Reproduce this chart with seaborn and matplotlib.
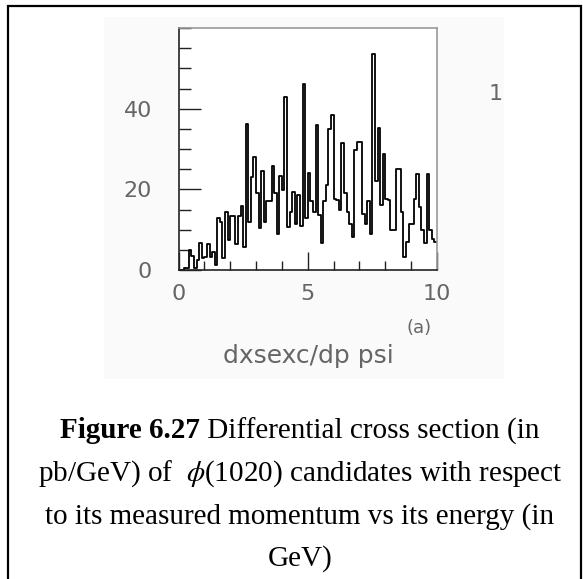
import numpy as np
import pandas as pd
import matplotlib
matplotlib.use("Agg")
import matplotlib.pyplot as plt
from matplotlib.patches import Rectangle
from matplotlib.ticker import MultipleLocator
import seaborn as sns

# Histogram of dxsexc/dp for psi, 100 bins of width 0.1 on [0, 10]
bin_width = 0.1
bin_range = (0.0, 10.0)
bin_contents = [
    0, 0, 0.4, 0.4, 5, 3.5, 0.6, 2.5, 6.6, 3,
    3.3, 6.4, 3.3, 4.5, 1.2, 12.8, 12, 3, 14.4, 7.4,
    13.4, 13.4, 6.5, 13.4, 15.8, 5.8, 36.3, 12, 23, 28,
    19, 10.3, 24.5, 12, 17, 17, 25.9, 19, 9, 23.3,
    19.8, 43, 10.7, 14.4, 19.4, 11.5, 18.6, 11, 46, 13,
    24, 17, 14.4, 36, 13.6, 6.8, 17, 21, 35, 38.4,
    17.7, 17.3, 15, 31.4, 19, 14.4, 11.5, 8.3, 29.7, 31.8,
    31.8, 14, 11.5, 17, 9, 53.6, 22, 35.2, 16, 28.8,
    17.7, 17.3, 9.9, 9.9, 25, 25, 14.4, 3.3, 7, 11.5,
    11.5, 17.7, 23.8, 15.7, 9.9, 6.6, 23.8, 9.9, 7.8, 7,
]
y_ticks = [0, 20, 40]
x_ticks = [0, 5, 10]

caption_bold = "Figure 6.27"
caption_line1 = " Differential cross section (in"
caption_lines = [
    r"pb/GeV) of  $\phi$(1020) candidates with respect",
    "to its measured momentum vs its energy (in",
    "GeV)",
]

bin_centers = bin_range[0] + bin_width * (np.arange(len(bin_contents)) + 0.5)
df = pd.DataFrame({"p": bin_centers, "w": bin_contents})

sns.set_style("white")
plt.rcParams["font.family"] = ["DejaVu Sans"]
plt.rcParams["mathtext.fontset"] = "stix"

W, H = 583, 579
fig = plt.figure(figsize=(W / 100, H / 100), dpi=100)

# faint panel behind the histogram pad
fig.patches.append(Rectangle((104 / W, 1 - 379 / H), 400 / W, 362 / H,
                             transform=fig.transFigure, facecolor="#fafafa",
                             edgecolor="none", zorder=-2))
# page frame
fig.patches.append(Rectangle((8 / W, -0.05), 573 / W, 1.05 - 5.5 / H,
                             transform=fig.transFigure, facecolor="none",
                             edgecolor="black", linewidth=1.6, zorder=5))

ax = fig.add_axes([178.5 / W, 1 - 270 / H, (437 - 178.5) / W, (270 - 28) / H])
ax.set_facecolor("white")

sns.histplot(data=df, x="p", weights="w", binwidth=bin_width,
             binrange=bin_range, element="step", fill=False,
             color="black", linewidth=1.3, ax=ax)

ax.set_xlim(0, 10)
ax.set_ylim(0, 60)
ax.set_xlabel("")
ax.set_ylabel("")
ax.set_xticks(x_ticks)
ax.set_yticks(y_ticks)
ax.xaxis.set_minor_locator(MultipleLocator(1))
ax.yaxis.set_minor_locator(MultipleLocator(5))
ax.tick_params(which="both", bottom=True, left=True, top=False, right=False)
ax.tick_params(axis="x", which="major", direction="in", length=13, width=1.0,
               color="#222222", labelsize=16, labelcolor="#666666", pad=10)
ax.tick_params(axis="x", which="minor", direction="in", length=6.7, width=1.0,
               color="#222222")
ax.tick_params(axis="y", which="major", direction="in", length=15.5, width=1.0,
               color="#222222", labelsize=16, labelcolor="#666666", pad=19)
ax.tick_params(axis="y", which="minor", direction="in", length=8.4, width=1.0,
               color="#222222")
for side in ["left", "bottom"]:
    ax.spines[side].set_color("#222222")
    ax.spines[side].set_linewidth(1.2)
for side in ["top", "right"]:
    ax.spines[side].set_color("#999999")
    ax.spines[side].set_linewidth(1.2)
    ax.spines[side].set_visible(True)

# pad annotations
fig.text(496 / W, 1 - 94 / H, "1", ha="center", va="center",
         fontsize=16, color="#666666")
fig.text(419 / W, 1 - 328 / H, "(a)", ha="center", va="center",
         fontsize=13, color="#666666")
fig.text(308 / W, 1 - 356 / H, "dxsexc/dp psi", ha="center", va="center",
         fontsize=18, color="#666666")

# caption in a serif face; the first line mixes bold and regular runs
serif = ["Liberation Serif", "DejaVu Serif"]
cap_size = 21
fig.canvas.draw()
renderer = fig.canvas.get_renderer()
t_bold = fig.text(0, 0, caption_bold, fontsize=cap_size, family=serif,
                  fontweight="bold", color="black")
t_reg = fig.text(0, 0, caption_line1, fontsize=cap_size, family=serif,
                 color="black")
wb = t_bold.get_window_extent(renderer).width
wr = t_reg.get_window_extent(renderer).width
cx = 300.0
x0 = cx - (wb + wr) / 2
y1 = 1 - 431 / H
t_bold.set_position((x0 / W, y1))
t_bold.set_va("center")
t_reg.set_position(((x0 + wb) / W, y1))
t_reg.set_va("center")

for line, ypx in zip(caption_lines, [474, 517, 559]):
    fig.text(cx / W, 1 - ypx / H, line, ha="center", va="center",
             fontsize=cap_size, family=serif, color="black")

fig.savefig("out.png", dpi=100)
